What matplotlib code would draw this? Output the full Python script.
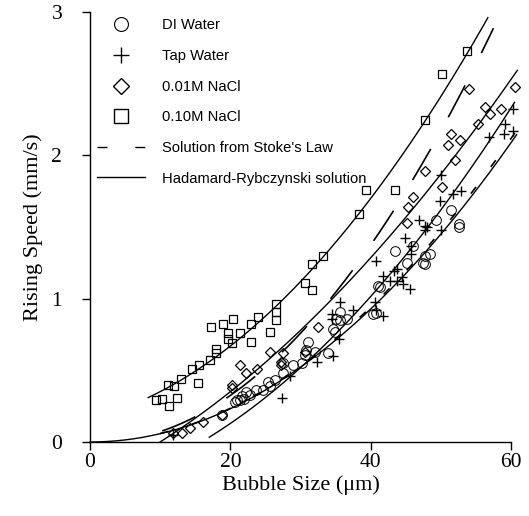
import numpy as np
import matplotlib
matplotlib.use('Agg')
import matplotlib.pyplot as plt
from matplotlib.lines import Line2D

plt.rcParams['lines.scale_dashes'] = False

# datos
# DI Water (circulos)
di_x = [18.8, 20.7, 20.9, 21.4, 21.6, 21.9, 22.3, 22.8, 23.7, 24.7, 25.4, 25.6, 26.4,
        27.5, 27.5, 29.0, 30.2, 30.6, 30.8, 31.0, 32.1, 33.9, 34.7, 34.9, 35.0, 35.7,
        35.7, 36.6, 40.4, 40.7, 41.1, 41.4, 43.4, 45.2, 46.0, 47.5, 47.7, 47.7, 48.4,
        49.3, 51.4, 52.6, 52.6]
di_y = [0.19, 0.28, 0.29, 0.29, 0.32, 0.30, 0.35, 0.33, 0.36, 0.36, 0.42, 0.39, 0.43,
        0.48, 0.55, 0.54, 0.55, 0.61, 0.64, 0.70, 0.63, 0.62, 0.79, 0.77, 0.86, 0.91,
        0.85, 0.86, 0.89, 0.90, 1.09, 1.08, 1.33, 1.25, 1.37, 1.25, 1.30, 1.24, 1.31,
        1.55, 1.62, 1.52, 1.50]

# Tap Water (cruces)
tap_x = [11.9, 27.4, 28.5, 32.3, 34.6, 35.5, 34.5, 34.5, 35.7, 37.5, 40.6, 40.7, 41.7,
         40.7, 41.7, 42.7, 43.3, 43.7, 43.7, 44.4, 44.6, 45.6, 45.8, 45.8, 44.9, 46.9,
         47.7, 47.7, 48.0, 50.0, 49.9, 51.8, 52.9, 50.0, 56.8, 59.0, 59.1, 60.3, 60.3]
tap_y = [0.05, 0.31, 0.46, 0.56, 0.60, 0.72, 0.89, 0.86, 0.98, 0.92, 0.98, 0.92, 0.88,
         1.26, 1.16, 1.12, 1.19, 1.21, 1.12, 1.15, 1.10, 1.07, 1.31, 1.37, 1.42, 1.55,
         1.51, 1.48, 1.50, 1.48, 1.68, 1.73, 1.75, 1.86, 2.13, 2.15, 2.22, 2.17, 2.32]

# 0.01M NaCl (rombos)
nacl1_x = [11.8, 13.1, 14.3, 16.1, 18.8, 20.3, 20.3, 21.4, 22.3, 23.8, 25.6, 27.2, 27.2,
           27.5, 30.6, 32.5, 45.2, 45.3, 46.0, 47.7, 50.1, 52.0, 51.0, 51.5, 52.7, 55.3,
           56.3, 57.0, 58.6, 54.0, 60.5]
nacl1_y = [0.06, 0.06, 0.10, 0.14, 0.19, 0.40, 0.38, 0.54, 0.48, 0.51, 0.63, 0.56, 0.54,
           0.62, 0.63, 0.80, 1.53, 1.64, 1.71, 1.89, 1.78, 1.97, 2.07, 2.15, 2.11, 2.22,
           2.34, 2.29, 2.32, 2.46, 2.48]

# 0.10M NaCl (cuadrados)
nacl10_x = [9.4, 10.3, 11.2, 12.4, 11.1, 12.0, 12.9, 14.6, 15.5, 15.4, 17.1, 17.2, 18.9,
            20.4, 19.7, 19.7, 20.2, 21.4, 23.0, 23.0, 24.0, 25.6, 26.5, 26.5, 26.5, 17.9,
            17.9, 30.6, 31.6, 31.7, 33.2, 38.4, 39.3, 43.4, 47.7, 50.2, 53.7]
nacl10_y = [0.29, 0.30, 0.25, 0.31, 0.40, 0.39, 0.44, 0.51, 0.54, 0.41, 0.57, 0.80, 0.82,
            0.86, 0.76, 0.72, 0.69, 0.76, 0.70, 0.82, 0.87, 0.77, 0.96, 0.91, 0.85, 0.65,
            0.62, 1.11, 1.06, 1.24, 1.30, 1.59, 1.76, 1.76, 2.25, 2.57, 2.73]

# curvas (coeficientes a, b, c de a*x^2 + b*x + c, y rango en x)
hr_curvas = [
    ((0.000655, 0.01218, 0.1638), 8.3, 56.7),
    ((0.000388, 0.02343, -0.273), 10.0, 60.9),
    ((0.000538, 0.0120, -0.326), 17.0, 60.5),
    ((0.00058, 0.0, 0.0), 0.0, 60.8),
]
stokes_curvas = [
    ((0.000907, -0.00196, 0.00106), 10.3, 57.5),
    ((0.000588, 0.0, 0.0), 10.0, 60.6),
]

fig = plt.figure(figsize=(5.29, 5.16), dpi=100)
ax = fig.add_axes([90 / 529, (516 - 442) / 516, 421 / 529, 430 / 516])

mk = dict(linestyle='none', markerfacecolor='none', markeredgecolor='black',
          clip_on=False)
ax.plot(di_x, di_y, marker='o', markersize=7, markeredgewidth=0.7, **mk)
ax.plot(tap_x, tap_y, marker='+', markersize=6.5, markeredgewidth=1.0, **mk)
ax.plot(nacl1_x, nacl1_y, marker='D', markersize=5.2, markeredgewidth=0.9, **mk)
ax.plot(nacl10_x, nacl10_y, marker='s', markersize=5.8, markeredgewidth=0.9, **mk)

for (a, b, c), x0, x1 in hr_curvas:
    xs = np.linspace(x0, x1, 200)
    ax.plot(xs, a * xs**2 + b * xs + c, color='black', lw=1.0, clip_on=False)
for i, ((a, b, c), x0, x1) in enumerate(stokes_curvas):
    xs = np.linspace(x0, x1, 200)
    ln, = ax.plot(xs, a * xs**2 + b * xs + c, color='black', lw=1.2, clip_on=False)
    if i == 0:
        ln.set_dashes((26, 26))
    else:
        ln.set_dashes((6, 18))

ax.set_xlim(0, 60)
ax.set_ylim(0, 3)
ax.set_xticks([0, 20, 40, 60])
ax.set_yticks([0, 1, 2, 3])
for s in ['top', 'right']:
    ax.spines[s].set_visible(False)
for s in ['left', 'bottom']:
    ax.spines[s].set_linewidth(1.0)

serif = ['Liberation Serif', 'DejaVu Serif']
ax.tick_params(axis='x', direction='out', length=6, width=1.0, pad=2,
               labelsize=15.5)
ax.tick_params(axis='y', direction='out', length=6, width=1.0, pad=14,
               labelsize=15.5)
for lab in ax.get_xticklabels() + ax.get_yticklabels():
    lab.set_family(serif)
ax.set_xlabel('Bubble Size (\u03bcm)', family=serif, fontsize=16, labelpad=2)
ax.set_ylabel('Rising Speed (mm/s)', family=serif, fontsize=16, labelpad=6)

handles = [
    Line2D([], [], marker='o', ls='none', ms=10, mfc='none', mec='black', mew=0.8),
    Line2D([], [], marker='+', ls='none', ms=12, mec='black', mew=1.0),
    Line2D([], [], marker='D', ls='none', ms=8, mfc='none', mec='black', mew=1.0),
    Line2D([], [], marker='s', ls='none', ms=9.5, mfc='none', mec='black', mew=1.0),
    Line2D([], [], color='black', lw=1.0, dashes=(7.2, 20)),
    Line2D([], [], color='black', lw=1.0),
]
labels = ['DI Water', 'Tap Water', '0.01M NaCl', '0.10M NaCl',
          "Solution from Stoke's Law", 'Hadamard-Rybczynski solution']
leg = ax.legend(handles, labels, loc='upper left', bbox_to_anchor=(0.016, 0.985),
                frameon=False, borderpad=0, borderaxespad=0, handlelength=3.3,
                handletextpad=1.1, labelspacing=1.13,
                prop={'family': ['Liberation Sans', 'DejaVu Sans'], 'size': 10.6})

fig.savefig('out.png', dpi=100)
